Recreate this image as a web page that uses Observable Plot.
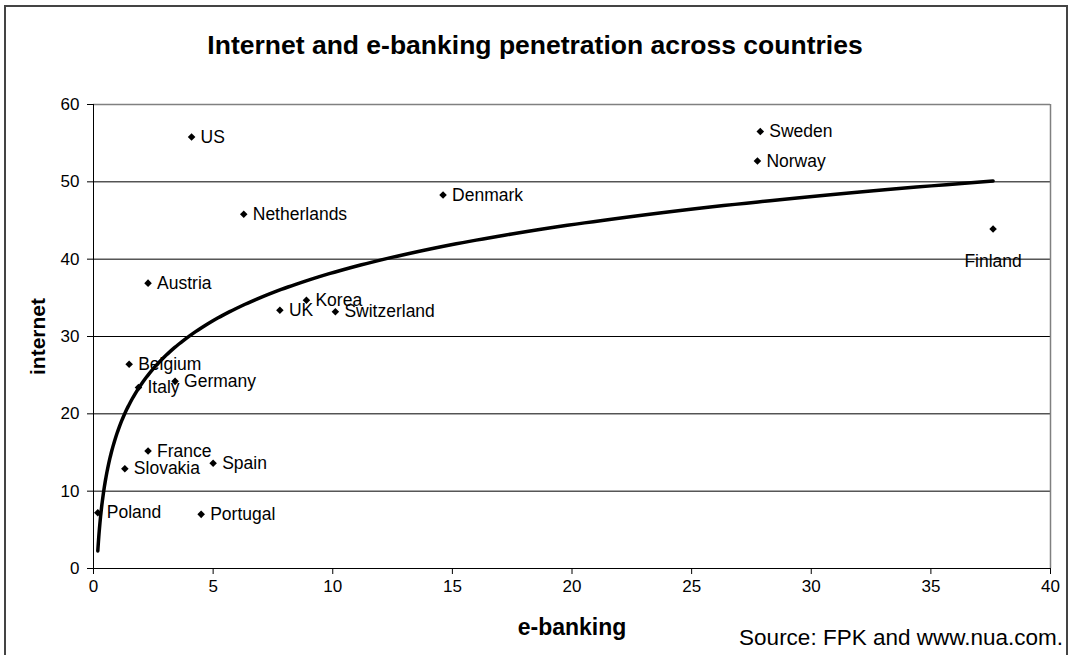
<!DOCTYPE html>
<html>
<head>
<meta charset="utf-8">
<script src="https://cdn.jsdelivr.net/npm/d3@7"></script>
<script src="https://cdn.jsdelivr.net/npm/@observablehq/plot@0.6"></script>
<style>
  html, body { margin: 0; padding: 0; background: #fff; }
  #wrap { position: relative; width: 1070px; height: 655px; overflow: hidden; font-family: "Liberation Sans", Arial, sans-serif; }
  #border { position: absolute; left: 4px; top: 5px; width: 1060px; height: 700px; border: 2px solid #444; }
  #title { position: absolute; left: 0; top: 29px; width: 1070px; text-align: center; font-weight: bold; font-size: 26.5px; line-height: 32px; color: #000; }
  #source { position: absolute; right: 7px; top: 624px; font-size: 22.5px; line-height: 28px; color: #000; }
  #chart { position: absolute; left: 0; top: 0; }
</style>
</head>
<body>
<div id="wrap">
  <div id="border"></div>
  <div id="chart"></div>
  <div id="title">Internet and e-banking penetration across countries</div>
  <div id="source">Source: FPK and www.nua.com.</div>
</div>
<script>
const countries = ["US","Netherlands","Austria","UK","Korea","Switzerland","Belgium","Italy","Germany","France","Slovakia","Spain","Poland","Portugal","Denmark","Sweden","Norway","Finland"];
const eBanking  = [4.10, 6.28, 2.28, 7.79, 8.90, 10.11, 1.49, 1.88, 3.41, 2.28, 1.31, 5.00, 0.18, 4.50, 14.61, 27.87, 27.75, 37.6];
const internet  = [55.8, 45.8, 36.9, 33.4, 34.7, 33.2, 26.4, 23.4, 24.2, 15.2, 12.9, 13.6, 7.2, 7.0, 48.3, 56.5, 52.7, 43.9];
const xTicks = [0,5,10,15,20,25,30,35,40];
const yTicks = [0,10,20,30,40,50,60];

const data = countries.map((c, i) => ({country: c, x: eBanking[i], y: internet[i]}));

// Logarithmic trendline (least squares of internet on ln(e-banking)), as in the source chart
const L = eBanking.map(Math.log);
const mL = d3.mean(L), mY = d3.mean(internet);
const a = d3.sum(L.map((l, i) => (l - mL) * (internet[i] - mY))) / d3.sum(L.map(l => (l - mL) ** 2));
const b = mY - a * mL;
const minX = d3.min(eBanking), maxX = d3.max(eBanking);
const trend = d3.range(0, 301).map(i => {
  const x = minX * Math.pow(maxX / minX, i / 300);
  return {x, y: a * Math.log(x) + b};
});

const font = "'Liberation Sans', Arial, sans-serif";
const chart = Plot.plot({
  width: 1070, height: 655,
  marginLeft: 93, marginRight: 20, marginTop: 104, marginBottom: 87,
  style: {fontFamily: font, fontSize: "17px", background: "transparent", color: "#000"},
  x: {domain: [0, 40]},
  y: {domain: [0, 60]},
  marks: [
    Plot.ruleY(yTicks.filter(v => v > 0 && v < 60), {stroke: "#000", strokeWidth: 1}),
    Plot.ruleY([60], {stroke: "#808080", strokeWidth: 1.5}),
    Plot.ruleX([40], {stroke: "#808080", strokeWidth: 1.5}),
    Plot.ruleX([0], {stroke: "#000", strokeWidth: 1}),
    Plot.ruleY([0], {stroke: "#000", strokeWidth: 1}),
    Plot.axisY({ticks: yTicks, tickSize: 6, tickPadding: 8, label: null, fontSize: 17, stroke: "#000"}),
    Plot.axisX({ticks: xTicks, tickSize: 6, tickPadding: 5, label: null, fontSize: 17, stroke: "#000"}),
    Plot.line(trend, {x: "x", y: "y", stroke: "#000", strokeWidth: 3.5}),
    Plot.dot(data, {x: "x", y: "y", symbol: "diamond2", r: 3.4, fill: "#000"}),
    Plot.text(data.filter(d => d.country !== "Finland"), {x: "x", y: "y", text: "country", textAnchor: "start", dx: 9, fontSize: 17.5, fill: "#000"}),
    Plot.text(data.filter(d => d.country === "Finland"), {x: "x", y: "y", text: "country", textAnchor: "middle", dy: 32, fontSize: 17.5, fill: "#000"}),
    Plot.text(["internet"], {text: d => d, frameAnchor: "left", dx: -55, rotate: -90, textAnchor: "middle", lineAnchor: "middle", fontWeight: "bold", fontSize: 21, fill: "#000"}),
    Plot.text(["e-banking"], {text: d => d, frameAnchor: "bottom", dy: 59, textAnchor: "middle", lineAnchor: "middle", fontWeight: "bold", fontSize: 23, fill: "#000"})
  ]
});
document.getElementById("chart").appendChild(chart);
</script>
</body>
</html>
